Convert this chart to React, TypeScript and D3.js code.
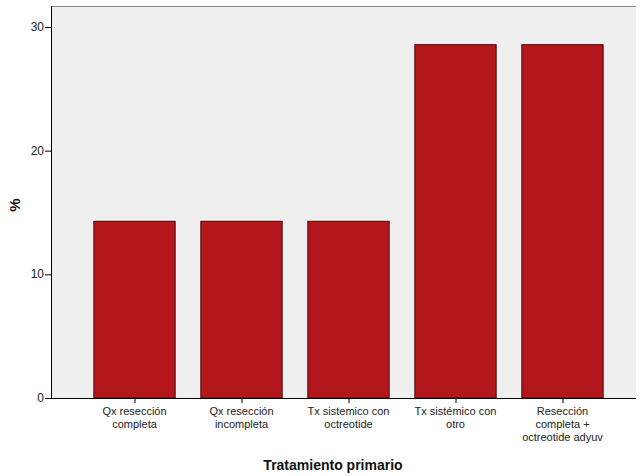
import React from "react";
import * as d3 from "d3";

const categories: string[][] = [
  ["Qx resección", "completa"],
  ["Qx resección", "incompleta"],
  ["Tx sistemico con", "octreotide"],
  ["Tx sistémico con", "otro"],
  ["Resección", "completa +", "octreotide adyuv"],
];
const values: number[] = [14.29, 14.29, 14.29, 28.57, 28.57];
const yTicks: number[] = [0, 10, 20, 30];
const yLabel = "%";
const xLabel = "Tratamiento primario";

export default function App() {
  const W = 641, H = 476;
  const left = 51, right = 636, top = 6, bottom = 398;
  const y = d3.scaleLinear().domain([0, 30]).range([bottom, 27]);
  const keys = categories.map((_, i) => String(i));
  const x = d3.scaleBand().domain(keys).range([81, 616]).paddingInner(0.24).paddingOuter(0.12);
  const font = "'Liberation Sans', Arial, sans-serif";
  return (
    <svg width={W} height={H} style={{ position: "absolute", left: 0, top: 0, background: "#fff" }} fontFamily={font}>
      <rect x={left} y={top} width={right - left} height={bottom - top} fill="#efefef" />
      <line x1={left} x2={right} y1={top + 0.5} y2={top + 0.5} stroke="#888" strokeWidth={1} />
      {values.map((v, i) => (
        <rect key={i} x={x(keys[i])!} y={y(v)} width={x.bandwidth()} height={bottom - y(v)}
          fill="#b3161b" stroke="#4a0808" strokeWidth={1} />
      ))}
      <line x1={left + 0.5} x2={left + 0.5} y1={top} y2={bottom} stroke="#000" />
      <line x1={left} x2={right} y1={bottom + 0.5} y2={bottom + 0.5} stroke="#000" />
      {yTicks.map((t) => (
        <g key={t}>
          <line x1={left - 6} x2={left} y1={y(t) + 0.5} y2={y(t) + 0.5} stroke="#000" />
          <text x={left - 7} y={y(t) + 4} textAnchor="end" fontSize={12} fill="#222">{t}</text>
        </g>
      ))}
      {categories.map((lines, i) => {
        const cx = x(keys[i])! + x.bandwidth() / 2;
        return (
          <g key={i}>
            <line x1={cx + 0.5} x2={cx + 0.5} y1={bottom} y2={bottom + 5} stroke="#000" />
            {lines.map((l, j) => (
              <text key={j} x={cx} y={415 + j * 13} textAnchor="middle" fontSize={11} fill="#222">{l}</text>
            ))}
          </g>
        );
      })}
      <text x={333} y={470} textAnchor="middle" fontSize={14} fontWeight="bold" fill="#111">{xLabel}</text>
      <text transform={`translate(20,205) rotate(-90)`} textAnchor="middle" fontSize={15} fontWeight="bold" fill="#111">{yLabel}</text>
    </svg>
  );
}
